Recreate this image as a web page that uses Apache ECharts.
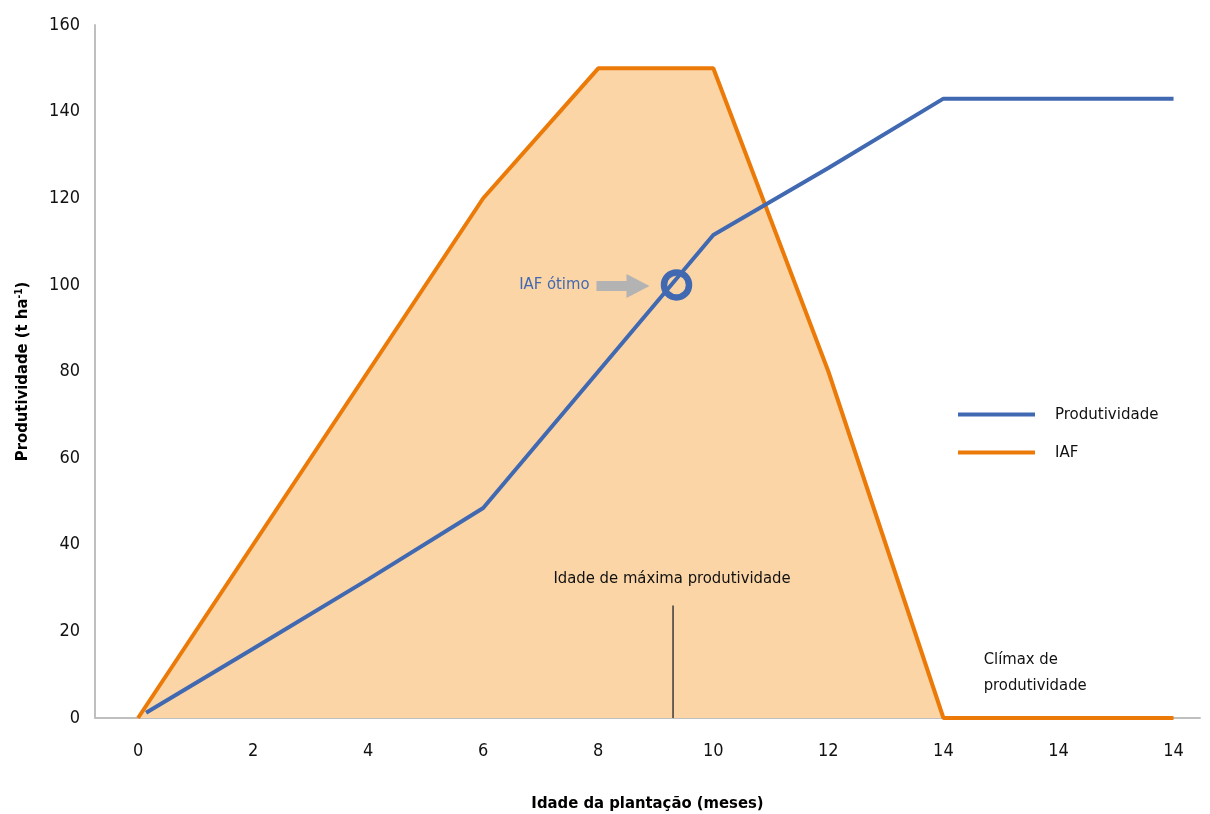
<!DOCTYPE html>
<html>
<head>
<meta charset="utf-8">
<script src="https://cdn.jsdelivr.net/npm/echarts@6/dist/echarts.min.js"></script>
<style>
  html, body { margin: 0; padding: 0; background: #fff; }
  #main { width: 1210px; height: 814px; }
</style>
</head>
<body>
<div id="main"></div>
<script>
// rótulos do eixo x (posições 0..9)
var xLabels = ["0", "2", "4", "6", "8", "10", "12", "14", "14", "14"];
var xPos = [0, 1, 2, 3, 4, 5, 6, 7, 8, 9];
// IAF
var iafValues = [0, 40, 80, 120, 150, 150, 80, 0, 0, 0];
// Produtividade
var prodX = [0.07, 1, 2, 3, 4, 5, 6, 7, 8, 9];
var prodValues = [1.2, 16, 32, 48.5, 80, 111.5, 127, 143, 143, 143];
// anotações
var otimo = [4.68, 100];
var maxProd = [4.65, 26];

var font = '"Liberation Sans Narrow", "DejaVu Sans Condensed", sans-serif';
var blue = "#4169b2";
var orange = "#ec7a08";

var myChart = echarts.init(document.getElementById("main"));
var option = {
  animation: false,
  textStyle: { fontFamily: font },
  grid: { left: 95, right: 10, top: 25, bottom: 96, outerBoundsMode: "none", containLabel: false },
  legend: {
    orient: "vertical",
    left: 958,
    top: 406,
    padding: 0,
    itemWidth: 77,
    itemHeight: 4,
    itemGap: 21,
    icon: "rect",
    textStyle: { fontFamily: font, fontSize: 16.7, color: "#111", padding: [0, 0, 0, 15] },
    data: ["Produtividade", "IAF"]
  },
  xAxis: {
    type: "value",
    min: -0.374,
    max: 9.23,
    name: "Idade da plantação (meses)",
    nameLocation: "middle",
    nameGap: 77,
    nameTextStyle: { fontFamily: font, fontSize: 16.5, fontWeight: "bold", color: "#000" },
    axisLine: { lineStyle: { color: "#bfbfbf", width: 2 } },
    axisTick: { show: false },
    splitLine: { show: false },
    axisLabel: {
      customValues: xPos,
      margin: 24,
      fontSize: 18,
      color: "#111",
      formatter: function (v) { return xLabels[Math.round(v)]; }
    }
  },
  yAxis: {
    type: "value",
    min: 0,
    max: 160,
    interval: 20,
    name: "{a|Produtividade (t ha}{s|-1}{a|)}",
    nameLocation: "middle",
    nameGap: 63,
    nameTextStyle: {
      rich: {
        a: { fontFamily: font, fontSize: 16.5, fontWeight: "bold", color: "#000" },
        s: { fontFamily: font, fontSize: 10, fontWeight: "bold", color: "#000", verticalAlign: "top", padding: [0, 0, 8, 0] }
      }
    },
    axisLine: { show: true, onZero: false, lineStyle: { color: "#bfbfbf", width: 2 } },
    axisTick: { show: false },
    splitLine: { show: false },
    axisLabel: { margin: 15, fontSize: 18, color: "#111" }
  },
  series: [
    {
      name: "IAF",
      type: "line",
      symbol: "none",
      color: orange,
      lineStyle: { color: orange, width: 4 },
      areaStyle: { color: "#fbd5a5", opacity: 1 },
      data: xPos.map(function (x, i) { return [x, iafValues[i]]; }),
      z: 2
    },
    {
      name: "Produtividade",
      type: "line",
      symbol: "none",
      color: blue,
      lineStyle: { color: blue, width: 4 },
      data: prodX.map(function (x, i) { return [x, prodValues[i]]; }),
      z: 3
    },
    {
      name: "otimo",
      type: "scatter",
      symbol: "circle",
      symbolSize: 25,
      itemStyle: { color: "rgba(0,0,0,0)", borderColor: blue, borderWidth: 6.5, opacity: 1 },
      data: [otimo],
      z: 4
    },
    {
      name: "max",
      type: "line",
      symbol: "none",
      lineStyle: { color: "#3a3a3a", width: 1.5 },
      data: [[maxProd[0], 0], [maxProd[0], maxProd[1]]],
      z: 4
    }
  ]
};
myChart.setOption(option);

// setas e textos das anotações
var pO = myChart.convertToPixel({ gridIndex: 0 }, otimo);
var pM = myChart.convertToPixel({ gridIndex: 0 }, maxProd);
var pC = myChart.convertToPixel({ gridIndex: 0 }, [7.35, 16.5]);
var ax = pO[0] - 80, ay = pO[1] + 1;
myChart.setOption({
  graphic: [
    {
      type: "polygon",
      z: 10,
      shape: {
        points: [
          [ax, ay - 5], [ax + 30, ay - 5], [ax + 30, ay - 12], [ax + 53, ay],
          [ax + 30, ay + 12], [ax + 30, ay + 5], [ax, ay + 5]
        ]
      },
      style: { fill: "#b3b3b3" }
    },
    {
      type: "text",
      z: 10,
      x: ax - 7,
      y: ay - 1,
      style: { text: "IAF ótimo", fill: blue, font: "16.5px " + font, align: "right", verticalAlign: "middle" }
    },
    {
      type: "text",
      z: 10,
      x: pM[0] - 1,
      y: pM[1] - 27,
      style: { text: "Idade de máxima produtividade", fill: "#111", font: "16.5px " + font, align: "center", verticalAlign: "middle" }
    },
    {
      type: "text",
      z: 10,
      x: pC[0],
      y: pC[1],
      style: { text: "Clímax de\nprodutividade", fill: "#111", font: "16.5px " + font, lineHeight: 26, align: "left", verticalAlign: "top" }
    }
  ]
});
</script>
</body>
</html>
